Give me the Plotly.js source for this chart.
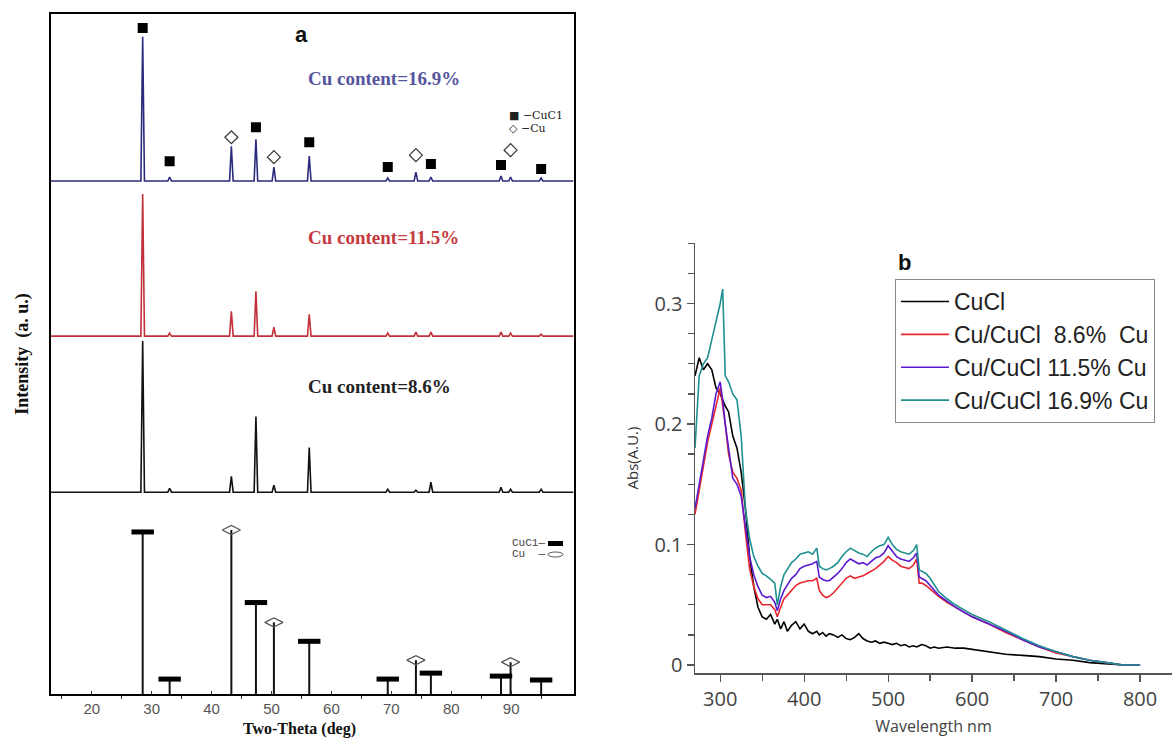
<!DOCTYPE html>
<html><head><meta charset="utf-8">
<script src="https://cdn.plot.ly/plotly-3.0.1.min.js"></script>
<style>html,body{margin:0;padding:0;background:#fff}</style>
</head><body><div id="chart" style="width:1175px;height:738px"></div>
<script>
// ---------- Panel a: XRD ----------
const cuclPeaks = [28.5, 33.0, 47.4, 56.3, 69.4, 76.6, 88.3, 95.0];
const cuPeaks   = [43.3, 50.4, 74.1, 89.9];
// reference pattern stick heights
const refCuclHeights = [163, 15, 92, 53, 15, 21, 18, 14];
const refCuHeights   = [165, 72, 34, 32];
// measured patterns: peak heights above each baseline
const cu86Cucl  = [152, 4, 76, 45, 3, 10, 5, 3];
const cu86Cu    = [16, 7, 2, 3];
const cu115Cucl = [143, 3, 45, 22, 3, 4, 4, 2];
const cu115Cu   = [25, 9, 4, 3];
const cu169Cucl = [145, 4, 42, 25, 3, 4, 5, 3];
const cu169Cu   = [35, 14, 9, 4];
// baselines of stacked patterns (a.u.)
const base86 = 203, base115 = 360, base169 = 516;
// phase marks above the 16.9% pattern (a.u.)
const cuclMarkY = [670, 536, 570, 555, 530, 533, 532, 528];
const cuMarkY   = [560, 540, 542, 547];

// ---------- Panel b: UV-Vis ----------
const wavelength = [270,275,280,285,290,295,300,303,306,310,315,320,325,330,335,340,345,350,355,360,365,368,372,376,380,385,390,395,400,405,410,415,418,422,426,430,435,440,445,450,455,460,465,470,475,480,485,490,495,500,505,510,515,520,525,530,534,537,540,545,550,555,560,570,580,590,600,620,640,660,680,700,720,740,760,780,800];
const absCuCl = [0.24,0.255,0.245,0.25,0.245,0.23,0.225,0.22,0.215,0.21,0.19,0.18,0.16,0.13,0.09,0.065,0.048,0.04,0.038,0.042,0.034,0.038,0.03,0.036,0.028,0.033,0.036,0.03,0.034,0.028,0.026,0.028,0.025,0.027,0.024,0.026,0.025,0.023,0.025,0.022,0.021,0.023,0.026,0.022,0.02,0.019,0.02,0.018,0.019,0.018,0.017,0.018,0.016,0.017,0.015,0.016,0.015,0.016,0.017,0.016,0.014,0.015,0.014,0.015,0.014,0.014,0.013,0.011,0.009,0.008,0.007,0.005,0.004,0.002,0.001,0.0,0.0];
const abs86 = [0.125,0.145,0.165,0.185,0.2,0.215,0.23,0.215,0.2,0.175,0.16,0.155,0.145,0.11,0.08,0.065,0.055,0.05,0.05,0.05,0.046,0.04,0.048,0.055,0.058,0.062,0.066,0.068,0.069,0.07,0.07,0.072,0.062,0.058,0.056,0.057,0.06,0.064,0.068,0.072,0.074,0.072,0.073,0.074,0.076,0.078,0.08,0.083,0.086,0.09,0.087,0.085,0.082,0.081,0.08,0.083,0.088,0.068,0.068,0.066,0.063,0.06,0.057,0.052,0.048,0.044,0.04,0.034,0.027,0.021,0.015,0.01,0.007,0.004,0.002,0.0,0.0];
const abs115 = [0.13,0.15,0.17,0.19,0.205,0.225,0.235,0.22,0.2,0.18,0.155,0.15,0.14,0.115,0.09,0.075,0.065,0.058,0.056,0.057,0.052,0.045,0.055,0.062,0.066,0.072,0.075,0.08,0.082,0.083,0.084,0.086,0.073,0.071,0.07,0.07,0.073,0.076,0.08,0.085,0.088,0.086,0.084,0.085,0.083,0.086,0.089,0.09,0.093,0.099,0.094,0.09,0.088,0.087,0.086,0.089,0.093,0.073,0.072,0.07,0.066,0.062,0.058,0.053,0.048,0.044,0.04,0.034,0.028,0.021,0.015,0.011,0.007,0.004,0.002,0.0,0.0];
const abs169 = [0.18,0.24,0.25,0.255,0.27,0.285,0.3,0.312,0.24,0.235,0.225,0.22,0.19,0.13,0.105,0.09,0.082,0.076,0.074,0.071,0.068,0.05,0.065,0.075,0.08,0.085,0.088,0.092,0.093,0.094,0.092,0.097,0.082,0.08,0.079,0.08,0.082,0.085,0.09,0.094,0.097,0.095,0.093,0.092,0.09,0.094,0.097,0.099,0.1,0.106,0.1,0.096,0.094,0.093,0.092,0.095,0.1,0.079,0.078,0.076,0.072,0.066,0.061,0.055,0.05,0.046,0.042,0.036,0.029,0.022,0.016,0.011,0.007,0.004,0.002,0.0,0.0];
const seriesNames = ['CuCl', 'Cu/CuCl\u00a0\u00a08.6%\u00a0\u00a0Cu', 'Cu/CuCl 11.5% Cu', 'Cu/CuCl 16.9% Cu'];

const XMIN = 13.2, XMAX = 100.4, HW = 0.3;
function profile(base, cuclH, cuH) {
  const pk = cuclPeaks.map((p, i) => [p, cuclH[i]]).concat(cuPeaks.map((p, i) => [p, cuH[i]]));
  pk.sort((a, b) => a[0] - b[0]);
  const xs = [XMIN], ys = [base];
  pk.forEach(([p, h]) => { xs.push(p - HW, p, p + HW); ys.push(base, base + h, base); });
  xs.push(XMAX); ys.push(base);
  return {xs, ys};
}
function sticks(peaks, heights) {
  const xs = [], ys = [];
  peaks.forEach((p, i) => { xs.push(p, p, null); ys.push(0, heights[i], null); });
  return {xs, ys};
}
const traces = [];
[[base169, cu169Cucl, cu169Cu, '#2b2b7e'], [base115, cu115Cucl, cu115Cu, '#c2303a'], [base86, cu86Cucl, cu86Cu, '#111']].forEach(([b, h1, h2, c]) => {
  const pr = profile(b, h1, h2);
  traces.push({x: pr.xs, y: pr.ys, xaxis: 'x', yaxis: 'y', mode: 'lines', line: {color: c, width: 1.6}, showlegend: false, hoverinfo: 'skip'});
});
const s1 = sticks(cuclPeaks, refCuclHeights), s2 = sticks(cuPeaks, refCuHeights);
traces.push({x: s1.xs.concat(s2.xs), y: s1.ys.concat(s2.ys), xaxis: 'x', yaxis: 'y', mode: 'lines', line: {color: '#111', width: 2}, showlegend: false, hoverinfo: 'skip'});
traces.push({x: cuclPeaks, y: refCuclHeights, xaxis: 'x', yaxis: 'y', mode: 'markers', marker: {symbol: 'line-ew', size: 16, line: {width: 5, color: '#000'}}, showlegend: false});
traces.push({x: cuPeaks, y: refCuHeights, xaxis: 'x', yaxis: 'y', mode: 'markers', marker: {symbol: 'diamond-wide-open', size: 13, color: '#555', line: {width: 1.3, color: '#555'}}, showlegend: false});
traces.push({x: cuclPeaks, y: cuclMarkY, xaxis: 'x', yaxis: 'y', mode: 'markers', marker: {symbol: 'square', size: 10, color: '#000'}, showlegend: false});
traces.push({x: cuPeaks, y: cuMarkY, xaxis: 'x', yaxis: 'y', mode: 'markers', marker: {symbol: 'diamond-open', size: 10, color: '#333', line: {width: 1.2, color: '#333'}}, showlegend: false});

const uvColors = ['#000000', '#e8262e', '#5a1bd0', '#1f9090'];
[absCuCl, abs86, abs115, abs169].forEach((ys, i) => {
  traces.push({x: wavelength, y: ys, xaxis: 'x2', yaxis: 'y2', mode: 'lines', name: seriesNames[i], line: {color: uvColors[i], width: 1.6}});
});

const W = 1175, H = 738;
const px = v => v / W, py = v => (H - v) / H;
function note(text, x, y, font, xanchor) {
  return {text, x: px(x), y: py(y), xref: 'paper', yref: 'paper', xanchor: xanchor || 'center', yanchor: 'middle', showarrow: false, borderpad: 0, font};
}
const layout = {
  width: W, height: H, margin: {l: 0, r: 0, t: 0, b: 0},
  paper_bgcolor: '#fff', plot_bgcolor: 'rgba(0,0,0,0)',
  font: {family: 'Liberation Sans, Arial, sans-serif', color: '#222'},
  xaxis: {domain: [px(51), px(573.5)], range: [XMIN, XMAX], anchor: 'y', showline: true, mirror: true, linecolor: '#000', linewidth: 2,
    ticks: 'inside', ticklen: 3, tickcolor: '#333', tickvals: [20, 30, 40, 50, 60, 70, 80, 90],
    minor: {tickvals: [15, 25, 35, 45, 55, 65, 75, 85, 95], ticks: 'outside', ticklen: 3, tickcolor: '#333'},
    tickfont: {family: 'Liberation Sans', size: 15, color: '#555'}, showgrid: false, zeroline: false},
  yaxis: {domain: [py(694), py(14)], range: [0, 684], anchor: 'x', showline: true, mirror: true, linecolor: '#000', linewidth: 2,
    showticklabels: false, ticks: '', showgrid: false, zeroline: false,
    title: {text: '<b>Intensity\u00a0\u00a0(a. u.)</b>', font: {family: 'Liberation Serif', size: 18, color: '#111'}, standoff: 16}},
  xaxis2: {domain: [px(695), px(1172)], range: [270, 838], anchor: 'y2', showline: true, linecolor: '#555', linewidth: 1.5,
    ticks: 'outside', ticklen: 7, tickwidth: 1.3, tickcolor: '#555', tickvals: [300, 400, 500, 600, 700, 800],
    minor: {tickvals: [350, 450, 550, 650, 750], ticks: 'outside', ticklen: 6, tickcolor: '#555'},
    tickfont: {family: 'Open Sans', size: 20, color: '#444'}, showgrid: false, zeroline: false,
    title: {text: 'Wavelength nm', font: {family: 'Open Sans', size: 16, color: '#444'}, standoff: 10}},
  yaxis2: {domain: [py(673), py(243)], range: [-0.0066, 0.3502], anchor: 'x2', showline: true, linecolor: '#555', linewidth: 1.5,
    ticks: 'outside', ticklen: 7, tickwidth: 1.3, tickcolor: '#555', tickvals: [0, 0.1, 0.2, 0.3], ticktext: ['0', '0.1', '0.2', '0.3'],
    minor: {tickvals: [0.025, 0.05, 0.075, 0.125, 0.15, 0.175, 0.225, 0.25, 0.275, 0.325, 0.35], ticks: 'outside', ticklen: 6, tickcolor: '#555'},
    tickfont: {family: 'Open Sans', size: 20, color: '#444'}, showgrid: false, zeroline: false,
    title: {text: 'Abs(A.U.)', font: {family: 'Open Sans', size: 15, color: '#333'}, standoff: 12}},
  legend: {x: px(895), y: py(279), xanchor: 'left', yanchor: 'top', bgcolor: '#fff', bordercolor: '#888', borderwidth: 1,
    font: {family: 'Liberation Sans', size: 23, color: '#222'}, traceorder: 'normal', itemwidth: 48},
  annotations: [
    note('<b>Two-Theta (deg)</b>', 299, 729, {family: 'Liberation Serif', size: 16, color: '#111'}),
    note('<b>a</b>', 301, 35, {family: 'Liberation Sans', size: 22, color: '#111'}),
    note('<b>Cu content=16.9%</b>', 384, 79, {family: 'Liberation Serif', size: 19, color: '#55559e'}),
    note('<b>Cu content=11.5%</b>', 383, 238, {family: 'Liberation Serif', size: 19, color: '#c43a3f'}),
    note('<b>Cu content=8.6%</b>', 379, 386, {family: 'Liberation Serif', size: 19, color: '#222'}),
    note('■ −CuC1', 508, 115, {family: 'DejaVu Serif', size: 11, color: '#222'}, 'left'),
    note('◇ −Cu', 508, 128, {family: 'DejaVu Serif', size: 11, color: '#222'}, 'left'),
    note('CuC1—', 546, 543, {family: 'Liberation Mono', size: 11, color: '#444'}, 'right'),
    note('Cu\u00a0\u00a0—', 546, 554, {family: 'Liberation Mono', size: 11, color: '#444'}, 'right'),
    note('<b>b</b>', 897, 262, {family: 'Liberation Sans', size: 22, color: '#111'}, 'left')
  ],
  shapes: [
    {type: 'rect', xref: 'paper', yref: 'paper', x0: px(548), x1: px(563), y0: py(546), y1: py(541), fillcolor: '#000', line: {width: 0}},
    {type: 'circle', xref: 'paper', yref: 'paper', x0: px(548), x1: px(563), y0: py(557), y1: py(552), fillcolor: 'rgba(0,0,0,0)', line: {width: 1, color: '#555'}}
  ]
};
Plotly.newPlot('chart', traces, layout, {staticPlot: true});
</script></body></html>
